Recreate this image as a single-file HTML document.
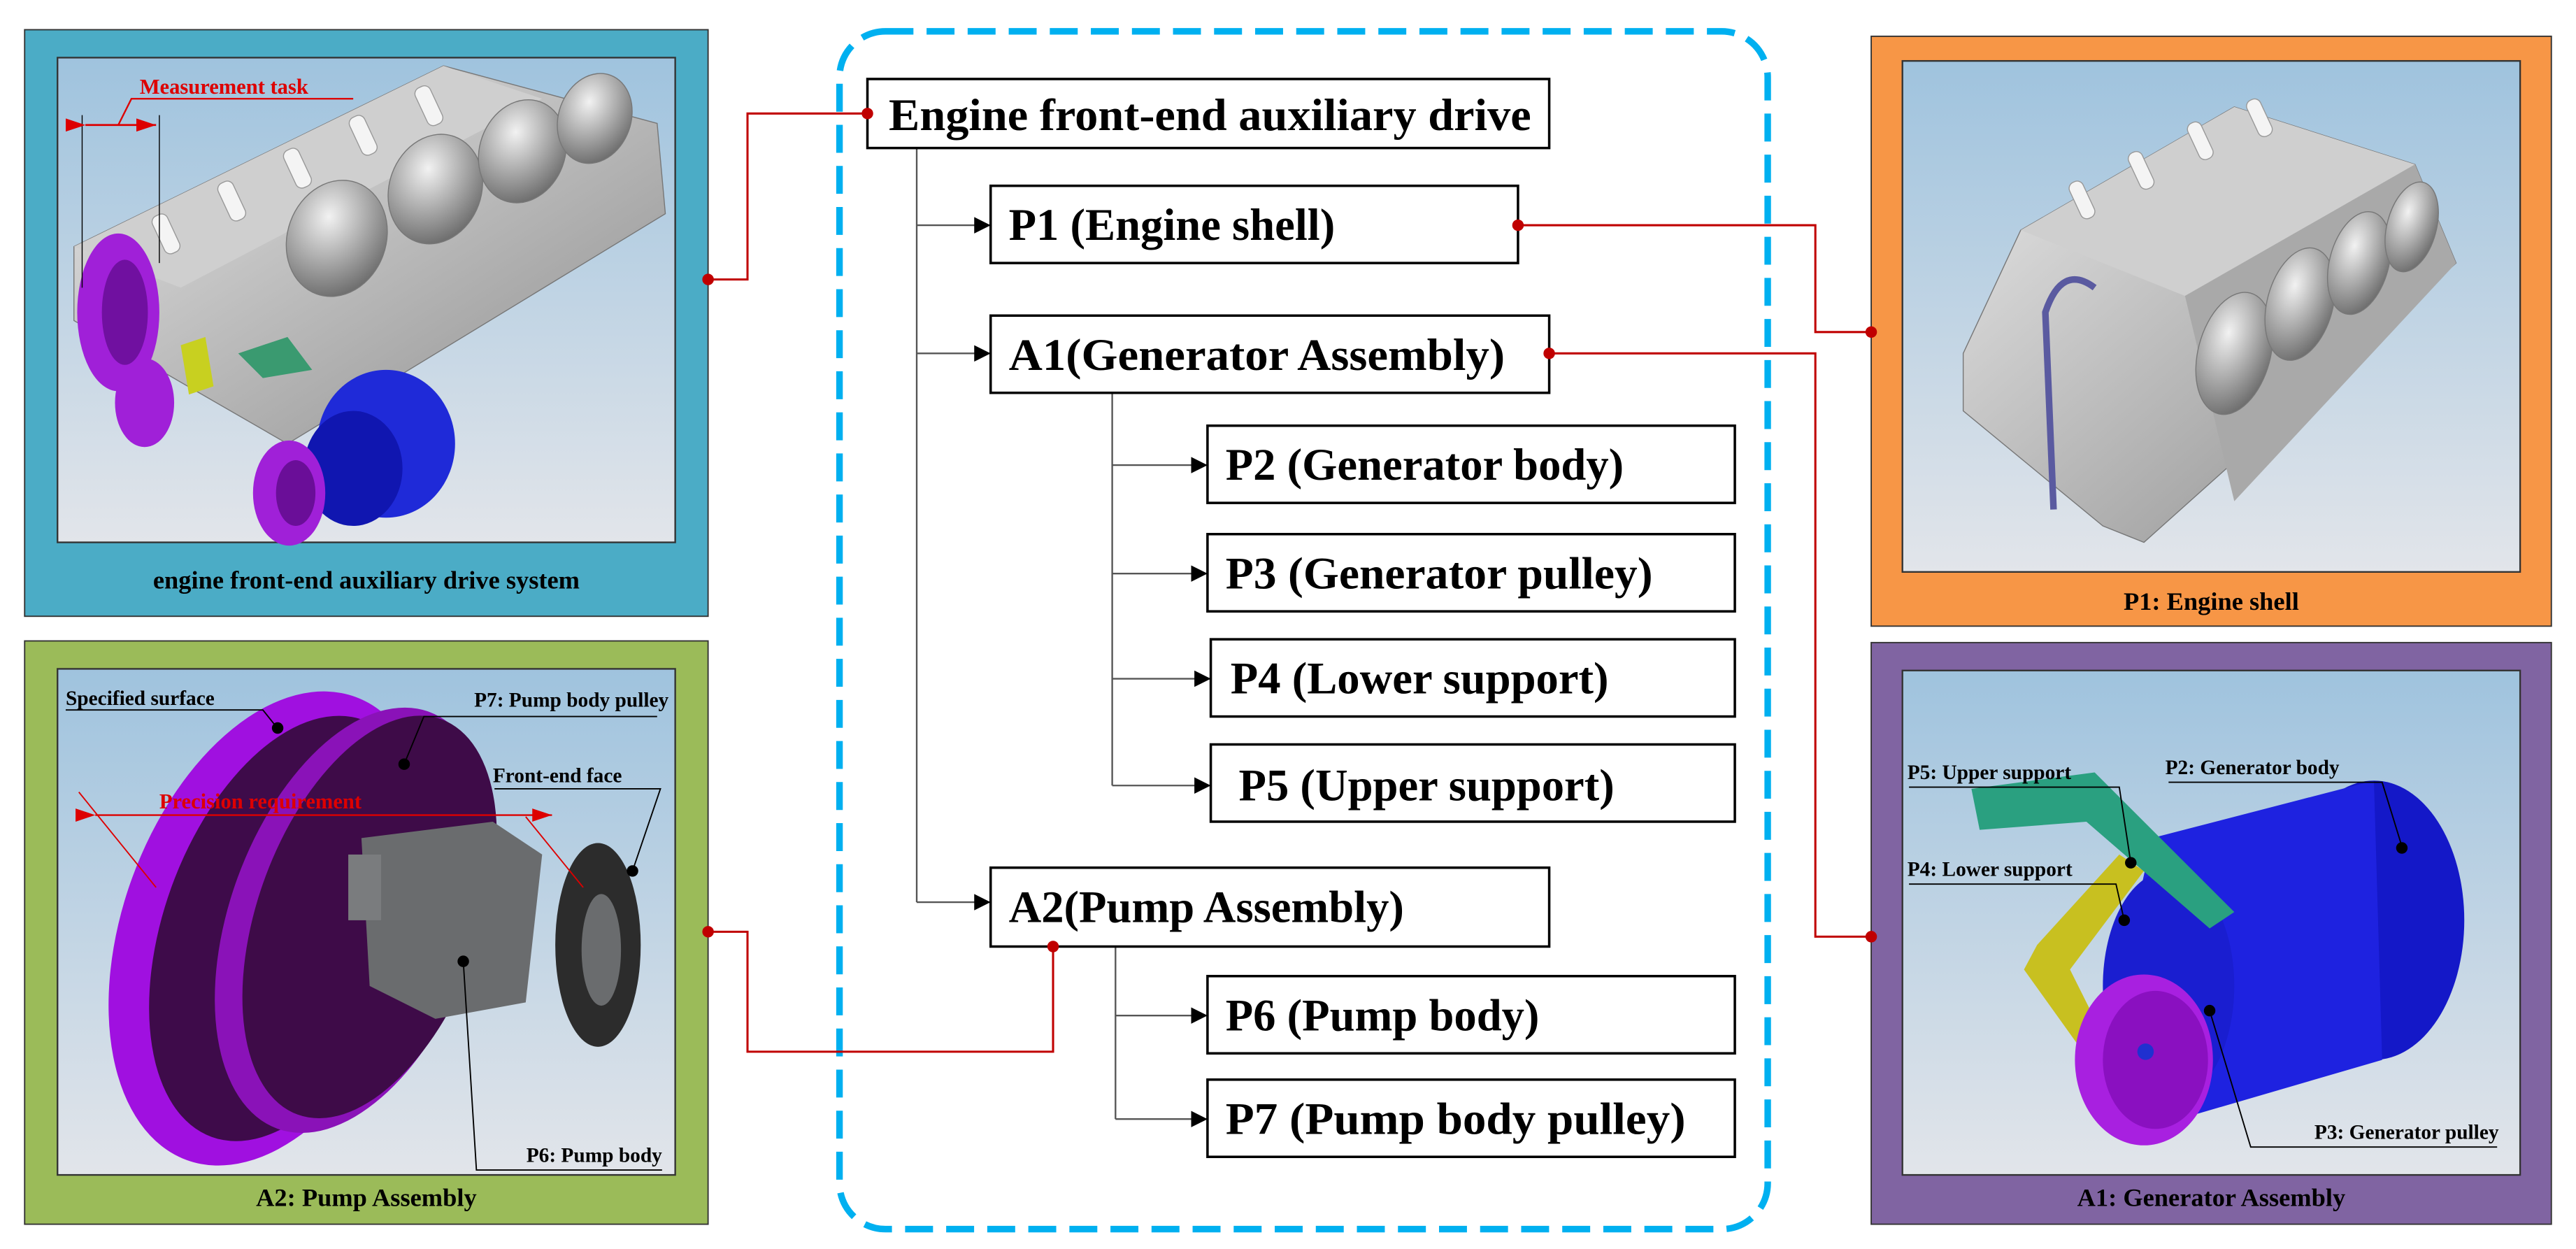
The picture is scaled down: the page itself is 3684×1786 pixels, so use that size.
<!DOCTYPE html>
<html><head><meta charset="utf-8"><style>
html,body{margin:0;padding:0;background:#fff;}
svg{display:block;}
text{font-family:"Liberation Serif",serif;font-weight:bold;}
</style></head><body>
<svg width="3684" height="1786" viewBox="0 0 1568 760" xmlns="http://www.w3.org/2000/svg">
<defs>
<linearGradient id="sky" x1="0" y1="0" x2="0" y2="1">
<stop offset="0" stop-color="#9fc3de"/><stop offset="1" stop-color="#e2e5ea"/></linearGradient>
<linearGradient id="gray" x1="0" y1="0" x2="1" y2="1">
<stop offset="0" stop-color="#e8e8e8"/><stop offset="1" stop-color="#8d8d8d"/></linearGradient>
<radialGradient id="cyl" cx="0.35" cy="0.35" r="0.7">
<stop offset="0" stop-color="#f2f2f2"/><stop offset="1" stop-color="#6f6f6f"/></radialGradient>
<marker id="ar" markerWidth="10" markerHeight="10" refX="10" refY="5" orient="auto" markerUnits="userSpaceOnUse">
<path d="M0,0 L10,5 L0,10 z" fill="#000"/></marker>
<marker id="rar" markerWidth="12" markerHeight="8" refX="12" refY="4" orient="auto" markerUnits="userSpaceOnUse">
<path d="M0,0 L12,4 L0,8 z" fill="#d00"/></marker>
</defs>

<!-- Left top panel -->
<rect x="15" y="18" width="416" height="357" fill="#4bacc6" stroke="#333" stroke-width="0.8"/>
<rect x="35" y="35" width="376" height="295" fill="url(#sky)" stroke="#333" stroke-width="1"/>
<g>
<polygon points="45,150 270,40 400,75 405,130 175,270 45,195" fill="url(#gray)" stroke="#777" stroke-width="0.6"/>
<polygon points="45,150 270,40 330,60 110,175" fill="#cfcfcf"/>
<g fill="#f4f4f4" stroke="#999" stroke-width="0.6">
<rect x="95" y="130" width="10" height="25" rx="4" transform="rotate(-25 100 140)"/>
<rect x="135" y="110" width="10" height="25" rx="4" transform="rotate(-25 140 120)"/>
<rect x="175" y="90" width="10" height="25" rx="4" transform="rotate(-25 180 100)"/>
<rect x="215" y="70" width="10" height="25" rx="4" transform="rotate(-25 220 80)"/>
<rect x="255" y="52" width="10" height="25" rx="4" transform="rotate(-25 260 62)"/>
</g>
<g fill="url(#cyl)" stroke="#777" stroke-width="0.6">
<ellipse cx="205" cy="145" rx="30" ry="36" transform="rotate(20 205 145)"/>
<ellipse cx="265" cy="115" rx="28" ry="34" transform="rotate(20 265 115)"/>
<ellipse cx="318" cy="92" rx="26" ry="32" transform="rotate(20 318 92)"/>
<ellipse cx="362" cy="72" rx="22" ry="28" transform="rotate(20 362 72)"/>
</g>
<polygon points="145,215 175,205 190,225 160,230" fill="#3a9a70"/>
<polygon points="110,210 125,205 130,235 115,240" fill="#c8d020"/>
<ellipse cx="235" cy="270" rx="42" ry="45" fill="#1f2ad8"/>
<ellipse cx="215" cy="285" rx="30" ry="35" fill="#1016b0"/>
<ellipse cx="72" cy="190" rx="25" ry="48" fill="#a020d8"/>
<ellipse cx="76" cy="190" rx="14" ry="32" fill="#7010a0"/>
<ellipse cx="88" cy="245" rx="18" ry="27" fill="#a020d8"/>
<ellipse cx="176" cy="300" rx="22" ry="32" fill="#a020d8"/>
<ellipse cx="180" cy="300" rx="12" ry="20" fill="#6a0e98"/>
</g>
<line x1="50" y1="70" x2="50" y2="175" stroke="#000" stroke-width="0.6"/>
<line x1="97" y1="70" x2="97" y2="160" stroke="#000" stroke-width="0.6"/>
<line x1="52" y1="76" x2="95" y2="76" stroke="#d00" stroke-width="1.2" marker-start="url(#rar)" marker-end="url(#rar)"/>
<polyline points="72,76 80,60 215,60" fill="none" stroke="#d00" stroke-width="1"/>
<text x="85" y="57" font-size="13" fill="#d00">Measurement task</text>
<text x="223" y="358" font-size="15.5" text-anchor="middle">engine front-end auxiliary drive system</text>

<!-- Left bottom panel -->
<rect x="15" y="390" width="416" height="355" fill="#9bbb59" stroke="#333" stroke-width="0.8"/>
<rect x="35" y="407" width="376" height="308" fill="url(#sky)" stroke="#333" stroke-width="1"/>
<ellipse cx="165" cy="565" rx="90" ry="150" transform="rotate(20 165 565)" fill="#a010e0"/>
<ellipse cx="175" cy="565" rx="75" ry="135" transform="rotate(20 175 565)" fill="#3e0b4a"/>
<ellipse cx="215" cy="560" rx="75" ry="135" transform="rotate(20 215 560)" fill="#8a12b8"/>
<ellipse cx="225" cy="558" rx="68" ry="128" transform="rotate(20 225 558)" fill="#3e0b48"/>
<polygon points="220,510 300,500 330,520 320,610 265,620 225,600" fill="#6a6c6e"/>
<rect x="212" y="520" width="20" height="40" fill="#7a7c7e"/>
<ellipse cx="364" cy="575" rx="26" ry="62" fill="#2c2c2c"/>
<ellipse cx="366" cy="578" rx="12" ry="34" fill="#6a6c6e"/>
<g stroke="#000" stroke-width="0.8" fill="none">
<polyline points="40,432 160,432 168,442"/>
<polyline points="400,436 258,436 246,465"/>
<polyline points="301,480 402,480 385,530"/>
<polyline points="403,712 290,712 282,585"/>
</g>
<g fill="#000"><circle cx="169" cy="443" r="3.5"/><circle cx="246" cy="465" r="3.5"/><circle cx="385" cy="530" r="3.5"/><circle cx="282" cy="585" r="3.5"/></g>
<text x="40" y="429" font-size="12.5">Specified surface</text>
<text x="407" y="430" font-size="12.5" text-anchor="end">P7: Pump body pulley</text>
<text x="300" y="476" font-size="12.5">Front-end face</text>
<text x="403" y="707" font-size="12.5" text-anchor="end">P6: Pump body</text>
<line x1="58" y1="496" x2="336" y2="496" stroke="#d00" stroke-width="1" marker-start="url(#rar)" marker-end="url(#rar)"/>
<line x1="48" y1="482" x2="95" y2="540" stroke="#d00" stroke-width="0.8"/>
<line x1="320" y1="497" x2="355" y2="540" stroke="#d00" stroke-width="0.8"/>
<text x="97" y="492" font-size="13" fill="#d00">Precision requirement</text>
<text x="223" y="734" font-size="15.5" text-anchor="middle">A2: Pump Assembly</text>

<!-- Right top panel -->
<rect x="1139" y="22" width="414" height="359" fill="#f79646" stroke="#333" stroke-width="0.8"/>
<rect x="1158" y="37" width="376" height="311" fill="url(#sky)" stroke="#333" stroke-width="1"/>
<polygon points="1195,215 1230,140 1360,65 1470,100 1495,160 1305,330 1280,320 1195,250" fill="url(#gray)" stroke="#777" stroke-width="0.6"/>
<polygon points="1230,140 1360,65 1470,100 1330,180" fill="#cfcfcf"/>
<polygon points="1330,180 1470,100 1495,160 1360,305" fill="#a9a9a9"/>
<g fill="url(#cyl)" stroke="#777" stroke-width="0.6">
<ellipse cx="1360" cy="215" rx="22" ry="38" transform="rotate(15 1360 215)"/>
<ellipse cx="1400" cy="185" rx="20" ry="35" transform="rotate(15 1400 185)"/>
<ellipse cx="1436" cy="160" rx="18" ry="32" transform="rotate(15 1436 160)"/>
<ellipse cx="1468" cy="138" rx="15" ry="28" transform="rotate(15 1468 138)"/>
</g>
<g fill="#f4f4f4" stroke="#999" stroke-width="0.6">
<rect x="1262" y="110" width="9" height="24" rx="4" transform="rotate(-25 1266 120)"/>
<rect x="1298" y="92" width="9" height="24" rx="4" transform="rotate(-25 1302 102)"/>
<rect x="1334" y="74" width="9" height="24" rx="4" transform="rotate(-25 1338 84)"/>
<rect x="1370" y="60" width="9" height="24" rx="4" transform="rotate(-25 1374 70)"/>
</g>
<path d="M1250,310 L1245,190 Q1255,160 1275,175" fill="none" stroke="#5a5aa0" stroke-width="4"/>
<text x="1346" y="371" font-size="15.5" text-anchor="middle">P1: Engine shell</text>

<!-- Right bottom panel -->
<rect x="1139" y="391" width="414" height="354" fill="#8064a2" stroke="#333" stroke-width="0.8"/>
<rect x="1158" y="408" width="376" height="307" fill="url(#sky)" stroke="#333" stroke-width="1"/>
<ellipse cx="1445" cy="560" rx="55" ry="85" fill="#1418c8"/>
<polygon points="1310,510 1445,475 1450,645 1330,680 1290,600" fill="#1e22e0"/>
<ellipse cx="1320" cy="600" rx="40" ry="70" fill="#1a1ed0"/>
<polygon points="1240,575 1290,520 1305,530 1260,590 1285,640 1275,650 1232,590" fill="#c8c020"/>
<polygon points="1200,480 1275,470 1360,555 1345,565 1270,500 1205,505" fill="#2aa080"/>
<ellipse cx="1305" cy="645" rx="42" ry="52" fill="#a820e0"/>
<ellipse cx="1312" cy="645" rx="32" ry="42" fill="#8a10c0"/>
<circle cx="1306" cy="640" r="5" fill="#2030d0"/>
<g stroke="#000" stroke-width="0.8" fill="none">
<polyline points="1162,479 1290,479 1297,525"/>
<polyline points="1320,476 1450,476 1462,515"/>
<polyline points="1162,538 1288,538 1293,560"/>
<polyline points="1520,698 1370,698 1345,615"/>
</g>
<g fill="#000"><circle cx="1297" cy="525" r="3.5"/><circle cx="1462" cy="516" r="3.5"/><circle cx="1293" cy="560" r="3.5"/><circle cx="1345" cy="615" r="3.5"/></g>
<text x="1161" y="474" font-size="12.5">P5: Upper support</text>
<text x="1318" y="471" font-size="12.5">P2: Generator body</text>
<text x="1161" y="533" font-size="12.5">P4: Lower support</text>
<text x="1521" y="693" font-size="12.5" text-anchor="end">P3: Generator pulley</text>
<text x="1346" y="734" font-size="15.5" text-anchor="middle">A1: Generator Assembly</text>

<!-- Dashed frame -->
<rect x="511" y="19" width="565" height="729" rx="28" fill="none" stroke="#00b0f0" stroke-width="4" stroke-dasharray="17 8"/>

<!-- Tree lines -->
<g stroke="#555" stroke-width="1" fill="none">
<line x1="558" y1="90" x2="558" y2="549"/>
<line x1="677" y1="239" x2="677" y2="478"/>
<line x1="679" y1="576" x2="679" y2="681"/>
</g>
<g stroke="#555" stroke-width="1" marker-end="url(#ar)">
<line x1="558" y1="137" x2="603" y2="137"/>
<line x1="558" y1="215" x2="603" y2="215"/>
<line x1="558" y1="549" x2="603" y2="549"/>
<line x1="677" y1="283" x2="735" y2="283"/>
<line x1="677" y1="349" x2="735" y2="349"/>
<line x1="677" y1="413" x2="737" y2="413"/>
<line x1="677" y1="478" x2="737" y2="478"/>
<line x1="679" y1="618" x2="735" y2="618"/>
<line x1="679" y1="681" x2="735" y2="681"/>
</g>

<!-- Boxes -->
<g fill="#fff" stroke="#000" stroke-width="1.5">
<rect x="528" y="48" width="415" height="42"/>
<rect x="603" y="113" width="321" height="47"/>
<rect x="603" y="192" width="340" height="47"/>
<rect x="735" y="259" width="321" height="47"/>
<rect x="735" y="325" width="321" height="47"/>
<rect x="737" y="389" width="319" height="47"/>
<rect x="737" y="453" width="319" height="47"/>
<rect x="603" y="528" width="340" height="48"/>
<rect x="735" y="594" width="321" height="47"/>
<rect x="735" y="657" width="321" height="47"/>
</g>
<g font-size="27.5">
<text x="541" y="79" textLength="391" lengthAdjust="spacingAndGlyphs">Engine front-end auxiliary drive</text>
<text x="614" y="146">P1 (Engine shell)</text>
<text x="614" y="225" textLength="302" lengthAdjust="spacingAndGlyphs">A1(Generator Assembly)</text>
<text x="746" y="292">P2 (Generator body)</text>
<text x="746" y="358" textLength="260" lengthAdjust="spacingAndGlyphs">P3 (Generator pulley)</text>
<text x="749" y="422">P4 (Lower support)</text>
<text x="754" y="487">P5 (Upper support)</text>
<text x="614" y="561">A2(Pump Assembly)</text>
<text x="746" y="627">P6 (Pump body)</text>
<text x="746" y="690" textLength="280" lengthAdjust="spacingAndGlyphs">P7 (Pump body pulley)</text>
</g>

<!-- Red connectors -->
<g stroke="#c00000" stroke-width="1.3" fill="none">
<polyline points="431,170 455,170 455,69 528,69"/>
<polyline points="924,137 1105,137 1105,202 1139,202"/>
<polyline points="943,215 1105,215 1105,570 1139,570"/>
<polyline points="431,567 455,567 455,640 641,640 641,576"/>
</g>
<g fill="#c00000">
<circle cx="431" cy="170" r="3.5"/><circle cx="528" cy="69" r="3.5"/>
<circle cx="924" cy="137" r="3.5"/><circle cx="1139" cy="202" r="3.5"/>
<circle cx="943" cy="215" r="3.5"/><circle cx="1139" cy="570" r="3.5"/>
<circle cx="431" cy="567" r="3.5"/><circle cx="641" cy="576" r="3.5"/>
</g>
</svg>
</body></html>
